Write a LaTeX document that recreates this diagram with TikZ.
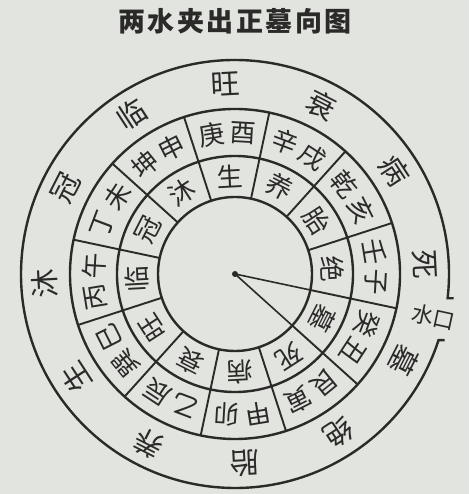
\documentclass[tikz,border=0pt]{standalone}
\usepackage{fontspec}
\newfontfamily\cjk{Noto Sans CJK SC}
\definecolor{paper}{RGB}{226,228,223}
\definecolor{ink}{RGB}{42,42,40}
\tikzset{
  ringc/.style={circle, draw=ink, line width=2.4pt, inner sep=0pt, outer sep=0pt},
  ringline/.style={draw=ink, line width=2.4pt, line join=miter},
  spoke/.style={draw=ink, line width=1.9pt},
  pointer/.style={draw=ink, line width=1.6pt},
  ch/.style={font=\cjk\fontsize{26}{26}\selectfont, text=ink, inner sep=0pt},
  bigch/.style={font=\cjk\fontsize{29}{29}\selectfont, text=ink, inner sep=0pt},
  smallch/.style={font=\cjk\fontsize{22}{22}\selectfont, text=ink, inner sep=0pt},
  titletext/.style={font=\cjk\bfseries\fontsize{27}{27}\selectfont, text=ink, inner sep=0pt},
}
\begin{document}
\begin{tikzpicture}[x=1pt,y=1pt]
\fill[paper] (0,0) rectangle (469,494);
\useasboundingbox (0,0) rectangle (469,494);
\coordinate (c) at (235,220);
% title
\node[titletext] (title) at (235,473) {两\hspace{2.5pt}水\hspace{2.5pt}夹\hspace{2.5pt}出\hspace{2.5pt}正\hspace{2.5pt}墓\hspace{2.5pt}向\hspace{2.5pt}图};
% rings
\node[ringc, minimum size=154pt] (inner) at (c) {};
\node[ringc, minimum size=236pt] (mid) at (c) {};
\node[ringc, minimum size=330pt] (ring2) at (c) {};
% outer circle with gap for the water mouth
\coordinate (gapA) at ([shift={(-6.5:214)}]c);
\coordinate (gapB) at ([shift={(-18:214)}]c);
\coordinate (tickA) at ([shift={(6,0)}]gapA);
\coordinate (tickB) at ([shift={(6,0)}]gapB);
\draw[ringline] (tickA) -- (gapA) arc[start angle=-6.5, end angle=342, radius=214] -- (tickB);
% spokes
\foreach \a in {18,48,...,348} {
  \draw[spoke] (inner.\a) -- (ring2.\a);
}
% pointer
\node[circle, fill=ink, inner sep=0pt, minimum size=6pt] (dot) at (c) {};
\draw[pointer] (dot.center) -- (inner.348);
\draw[pointer] (dot.center) -- (inner.318);
% labels
\foreach \i/\ga/\gb/\st/\ou in {0/庚/酉/生/旺, 1/辛/戌/养/衰, 2/乾/亥/胎/病, 3/壬/子/绝/死,
  4/癸/丑/墓/墓, 5/艮/寅/死/绝, 6/甲/卯/病/胎, 7/乙/辰/衰/养, 8/巽/巳/旺/生,
  9/丙/午/临/沐, 10/丁/未/冠/冠, 11/坤/申/沐/临} {
  \pgfmathsetmacro\t{93-30*\i}
  \node[ch, rotate=\t+6.3-90] (ga\i) at ([shift={(\t+6.3:141)}]c) {\ga};
  \node[ch, rotate=\t-6.3-90] (gb\i) at ([shift={(\t-6.3:141)}]c) {\gb};
  \node[ch, rotate=\t-90] (st\i) at ([shift={(\t:98)}]c) {\st};
  \node[bigch, rotate=\t-90] (ou\i) at ([shift={(\t:190)}]c) {\ou};
}
\node[smallch, rotate=-12.3] (shuikou) at ([shift={(-12.3:203)}]c) {水口};
\end{tikzpicture}
\end{document}
